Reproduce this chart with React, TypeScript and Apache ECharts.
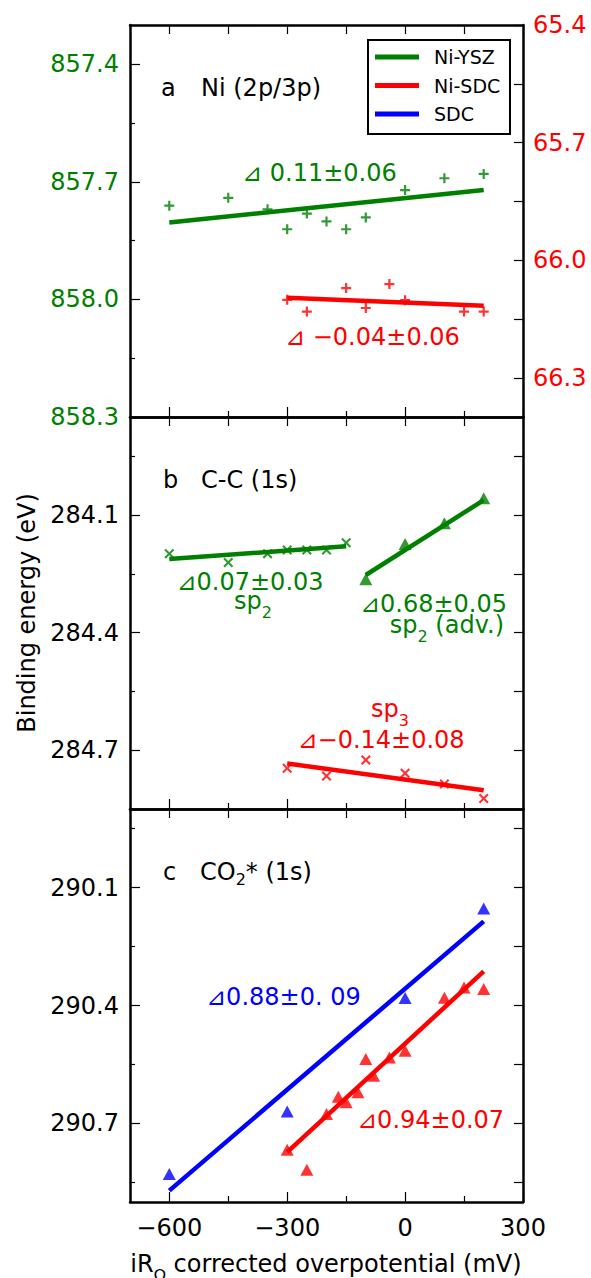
import React, { useEffect, useRef } from 'react';
import * as echarts from 'echarts';

const GREEN = '#008000';
const RED = '#ff0000';
const BLUE = '#0000ff';
const FONT = '"DejaVu Sans", sans-serif';

// ---- x axis (shared) ----
const X_MIN = -700;
const X_MAX = 300;
const xMajorTicks = [-600, -300, 0, 300];
const xMinorTicks = [-450, -150, 150];
const xTickLabels = [-600, -300, 0, 300];

// ---- panel a : Ni (2p/3p) ----
const aLeftRange = [857.3, 858.3];
const aLeftMajor = [857.4, 857.7, 858.0, 858.3];
const aLeftMinor = [857.55, 857.85, 858.15];
const aRightRange = [65.4, 66.4];
const aRightTicks = [65.4, 65.55, 65.7, 65.85, 66.0, 66.15, 66.3];
const aRightLabels = [65.4, 65.7, 66.0, 66.3];

const niYszX = [-600, -450, -350, -300, -250, -200, -150, -100, 0, 100, 200];
const niYszBE = [857.761, 857.741, 857.77, 857.821, 857.781, 857.801, 857.821, 857.791, 857.721, 857.691, 857.68];
const niYszFitX = [-600, 200];
const niYszFitBE = [857.804, 857.721];

const niSdcX = [-300, -250, -150, -100, -40, 0, 150, 200];
const niSdcBE = [66.101, 66.131, 66.071, 66.122, 66.061, 66.102, 66.131, 66.131];
const niSdcFitX = [-300, 200];
const niSdcFitBE = [66.096, 66.116];

// ---- panel b : C-C (1s) ----
const bRange = [283.85, 284.85];
const bMajor = [284.1, 284.4, 284.7];
const bMinor = [283.95, 284.25, 284.55];
const bAll = [283.95, 284.1, 284.25, 284.4, 284.55, 284.7];

const sp2X = [-600, -450, -350, -300, -250, -200, -150];
const sp2BE = [284.199, 284.221, 284.199, 284.189, 284.189, 284.189, 284.171];
const sp2FitX = [-600, -150];
const sp2FitBE = [284.212, 284.18];

const sp2AdvX = [-100, 0, 100, 200];
const sp2AdvBE = [284.264, 284.174, 284.121, 284.057];
const sp2AdvFitX = [-100, 200];
const sp2AdvFitBE = [284.253, 284.062];

const sp3X = [-300, -200, -100, 0, 100, 200];
const sp3BE = [284.746, 284.766, 284.725, 284.759, 284.786, 284.823];
const sp3FitX = [-300, 200];
const sp3FitBE = [284.734, 284.802];

// ---- panel c : CO2* (1s) ----
const cRange = [289.9, 290.9];
const cMajor = [290.1, 290.4, 290.7];
const cMinor = [289.95, 290.25, 290.55, 290.85];
const cAll = [289.95, 290.1, 290.25, 290.4, 290.55, 290.7, 290.85];

const sdcX = [-600, -300, 0, 200];
const sdcBE = [290.829, 290.67, 290.381, 290.153];
const sdcFitX = [-600, 200];
const sdcFitBE = [290.871, 290.186];

const co2NiSdcX = [-300, -250, -200, -170, -150, -120, -100, -80, -40, 0, 100, 150, 200];
const co2NiSdcBE = [290.767, 290.818, 290.676, 290.632, 290.646, 290.621, 290.536, 290.579, 290.532, 290.515, 290.38, 290.354, 290.358];
const co2NiSdcFitX = [-300, 200];
const co2NiSdcFitBE = [290.773, 290.313];

const PLUS = 'path://M3.9,0H6.1V3.9H10V6.1H6.1V10H3.9V6.1H0V3.9H3.9Z';
const CROSS = 'path://M0,1.5L1.5,0L5,3.5L8.5,0L10,1.5L6.5,5L10,8.5L8.5,10L5,6.5L1.5,10L0,8.5L3.5,5Z';

const pairs = (xs: number[], ys: number[]) => xs.map((x, i) => [x, ys[i]]);
const fmtMinus = (v: number) => String(v).replace('-', '\u2212');

const axisLineStyle = { color: '#000', width: 2.5 };
const tickLine = { color: '#000', width: 1.2 };

function xAxesFor(gi: number, labels: boolean) {
  const base = { type: 'value', gridIndex: gi, min: X_MIN, max: X_MAX, splitLine: { show: false } };
  return [
    {
      ...base,
      position: 'bottom',
      axisLine: { show: true, onZero: false, lineStyle: axisLineStyle },
      axisTick: { show: true, inside: true, length: 10, customValues: xMajorTicks, lineStyle: tickLine },
      axisLabel: labels
        ? { show: true, customValues: xTickLabels, formatter: fmtMinus, fontSize: 24, fontFamily: FONT, color: '#000', margin: 14 }
        : { show: false },
    },
    {
      ...base,
      position: 'bottom',
      axisLine: { show: false, onZero: false },
      axisTick: { show: true, inside: true, length: 6, customValues: xMinorTicks, lineStyle: tickLine },
      axisLabel: { show: false },
    },
    {
      ...base,
      position: 'top',
      axisLine: { show: true, onZero: false, lineStyle: axisLineStyle },
      axisTick: { show: true, inside: true, length: 9, customValues: [...xMajorTicks, ...xMinorTicks], lineStyle: tickLine },
      axisLabel: { show: false },
    },
  ];
}

function yAxesFor(
  gi: number,
  range: number[],
  major: number[],
  minor: number[],
  leftColor: string,
  rightRange: number[],
  rightTicks: number[],
  rightLabels: number[] | null,
) {
  const fmt = (v: number) => v.toFixed(1);
  return [
    {
      type: 'value', gridIndex: gi, position: 'left', inverse: true, min: range[0], max: range[1],
      splitLine: { show: false },
      axisLine: { show: true, onZero: false, lineStyle: axisLineStyle },
      axisTick: { show: true, inside: true, length: 10, customValues: major, lineStyle: tickLine },
      axisLabel: { show: true, customValues: major, formatter: fmt, fontSize: 24, fontFamily: FONT, color: leftColor, margin: 11 },
    },
    {
      type: 'value', gridIndex: gi, position: 'left', inverse: true, min: range[0], max: range[1],
      splitLine: { show: false },
      axisLine: { show: false, onZero: false },
      axisTick: { show: true, inside: true, length: 5, customValues: minor, lineStyle: tickLine },
      axisLabel: { show: false },
    },
    {
      type: 'value', gridIndex: gi, position: 'right', inverse: true, min: rightRange[0], max: rightRange[1],
      splitLine: { show: false },
      axisLine: { show: true, onZero: false, lineStyle: axisLineStyle },
      axisTick: { show: true, inside: true, length: 9, customValues: rightTicks, lineStyle: tickLine },
      axisLabel: rightLabels
        ? { show: true, customValues: rightLabels, formatter: fmt, fontSize: 24, fontFamily: FONT, color: RED, margin: 10 }
        : { show: false },
    },
  ];
}

function scatter(gi: number, yIdx: number, xs: number[], ys: number[], symbol: string, size: any, color: string) {
  return {
    type: 'scatter', xAxisIndex: gi * 3, yAxisIndex: yIdx, data: pairs(xs, ys),
    symbol, symbolSize: size, itemStyle: { color }, z: 2, silent: true,
  };
}
function fit(name: string, gi: number, yIdx: number, xs: number[], ys: number[], color: string) {
  return {
    name, type: 'line', xAxisIndex: gi * 3, yAxisIndex: yIdx, data: pairs(xs, ys),
    symbol: 'none', showSymbol: false, lineStyle: { color, width: 4.5 }, z: 3, silent: true,
  };
}

function plainText(x: number, y: number, text: string, color: string, align = 'left', size = 24) {
  return {
    type: 'text', x, y, z: 100,
    style: { text, fill: color, fontSize: size, fontFamily: FONT, align, verticalAlign: 'middle' },
  };
}

type Part = { t: string; sub?: boolean };

export default function App() {
  const ref = useRef<HTMLDivElement>(null);
  useEffect(() => {
    if (!ref.current) return;
    const canvas = document.createElement('canvas');
    const ctx = canvas.getContext('2d')!;
    const measure = (t: string, size: number) => {
      ctx.font = `${size}px "DejaVu Sans"`;
      return ctx.measureText(t).width;
    };
    // text with subscripts, built from several text pieces placed side by side
    const seq = (x: number, y: number, parts: Part[], color: string, align: string, drop: number) => {
      const widths = parts.map((p) => measure(p.t, p.sub ? 16 : 24));
      const total = widths.reduce((a, b) => a + b, 0);
      let cx = align === 'center' ? x - total / 2 : align === 'right' ? x - total : x;
      const out: any[] = [];
      parts.forEach((p, i) => {
        out.push({
          type: 'text', x: cx, y: p.sub ? y + drop : y, z: 100,
          style: { text: p.t, fill: color, fontSize: p.sub ? 16 : 24, fontFamily: FONT, align: 'left', verticalAlign: 'middle' },
        });
        cx += widths[i];
      });
      return out;
    };

    const chart = echarts.init(ref.current, null, { renderer: 'svg' });
    const grids = [
      { left: 130, top: 25, width: 393, height: 392 },
      { left: 130, top: 417, width: 393, height: 392 },
      { left: 130, top: 809, width: 393, height: 393 },
    ];
    const xAxis = [...xAxesFor(0, false), ...xAxesFor(1, false), ...xAxesFor(2, true)];
    const yAxis = [
      ...yAxesFor(0, aLeftRange, aLeftMajor, aLeftMinor, GREEN, aRightRange, aRightTicks, aRightLabels),
      ...yAxesFor(1, bRange, bMajor, bMinor, '#000', bRange, bAll, null),
      ...yAxesFor(2, cRange, cMajor, cMinor, '#000', cRange, cAll, null),
    ];
    const series = [
      scatter(0, 0, niYszX, niYszBE, PLUS, 10, GREEN),
      fit('Ni-YSZ', 0, 0, niYszFitX, niYszFitBE, GREEN),
      scatter(0, 2, niSdcX, niSdcBE, PLUS, 10, RED),
      fit('Ni-SDC', 0, 2, niSdcFitX, niSdcFitBE, RED),

      scatter(1, 3, sp2X, sp2BE, CROSS, 10, GREEN),
      fit('sp2', 1, 3, sp2FitX, sp2FitBE, GREEN),
      scatter(1, 3, sp2AdvX, sp2AdvBE, 'triangle', [13, 12], GREEN),
      fit('sp2 (adv.)', 1, 3, sp2AdvFitX, sp2AdvFitBE, GREEN),
      scatter(1, 3, sp3X, sp3BE, CROSS, 10, RED),
      fit('sp3', 1, 3, sp3FitX, sp3FitBE, RED),

      scatter(2, 6, sdcX, sdcBE, 'triangle', [13, 12], BLUE),
      fit('SDC', 2, 6, sdcFitX, sdcFitBE, BLUE),
      scatter(2, 6, co2NiSdcX, co2NiSdcBE, 'triangle', [13, 12], RED),
      fit('Ni-SDC CO2', 2, 6, co2NiSdcFitX, co2NiSdcFitBE, RED),
    ];

    const graphics: any[] = [
      // panel labels
      plainText(161, 88, 'a', '#000'),
      plainText(201, 88, 'Ni (2p/3p)', '#000'),
      plainText(163, 480, 'b', '#000'),
      plainText(201, 480, 'C-C (1s)', '#000'),
      plainText(163, 872, 'c', '#000'),
      ...seq(200, 872, [{ t: 'CO' }, { t: '2', sub: true }, { t: '* (1s)' }], '#000', 'left', 7),
      // panel a annotations
      plainText(242, 173, '\u22BF 0.11\u00B10.06', GREEN),
      plainText(285, 337, '\u22BF \u22120.04\u00B10.06', RED),
      // panel b annotations
      plainText(250, 582, '\u22BF0.07\u00B10.03', GREEN, 'center'),
      ...seq(253, 601, [{ t: 'sp' }, { t: '2', sub: true }], GREEN, 'center', 11),
      plainText(507, 604, '\u22BF0.68\u00B10.05', GREEN, 'right'),
      ...seq(504, 625, [{ t: 'sp' }, { t: '2', sub: true }, { t: ' (adv.)' }], GREEN, 'right', 11),
      ...seq(390, 709, [{ t: 'sp' }, { t: '3', sub: true }], RED, 'center', 11),
      plainText(381, 740, '\u22BF\u22120.14\u00B10.08', RED, 'center'),
      // panel c annotations
      plainText(206, 997, '\u22BF0.88\u00B10. 09', BLUE),
      plainText(357, 1120, '\u22BF0.94\u00B10.07', RED),
      // axis titles
      {
        type: 'text', x: 27, y: 613, rotation: Math.PI / 2, z: 100,
        style: { text: 'Binding energy (eV)', fill: '#000', fontSize: 24, fontFamily: FONT, align: 'center', verticalAlign: 'middle' },
      },
      ...seq(326, 1264, [{ t: 'iR' }, { t: '\u03A9', sub: true }, { t: ' corrected overpotential (mV)' }], '#000', 'center', 11),
      // legend
      {
        type: 'rect', z: 90,
        shape: { x: 368, y: 40, width: 142, height: 94 },
        style: { fill: '#fff', stroke: '#000', lineWidth: 2 },
      },
      { type: 'line', z: 91, shape: { x1: 375, y1: 57, x2: 419, y2: 57 }, style: { stroke: GREEN, lineWidth: 5 } },
      { type: 'line', z: 91, shape: { x1: 375, y1: 85.5, x2: 419, y2: 85.5 }, style: { stroke: RED, lineWidth: 5 } },
      { type: 'line', z: 91, shape: { x1: 375, y1: 114, x2: 419, y2: 114 }, style: { stroke: BLUE, lineWidth: 5 } },
      plainText(434, 57, 'Ni-YSZ', '#000', 'left', 19),
      plainText(434, 85.5, 'Ni-SDC', '#000', 'left', 19),
      plainText(434, 114, 'SDC', '#000', 'left', 19),
    ];

    chart.setOption({
      animation: false,
      backgroundColor: '#fff',
      grid: grids,
      xAxis,
      yAxis,
      series,
      graphic: { elements: graphics },
    });
    return () => chart.dispose();
  }, []);
  return <div ref={ref} style={{ position: 'absolute', left: 0, top: 0, width: 591, height: 1278 }} />;
}
